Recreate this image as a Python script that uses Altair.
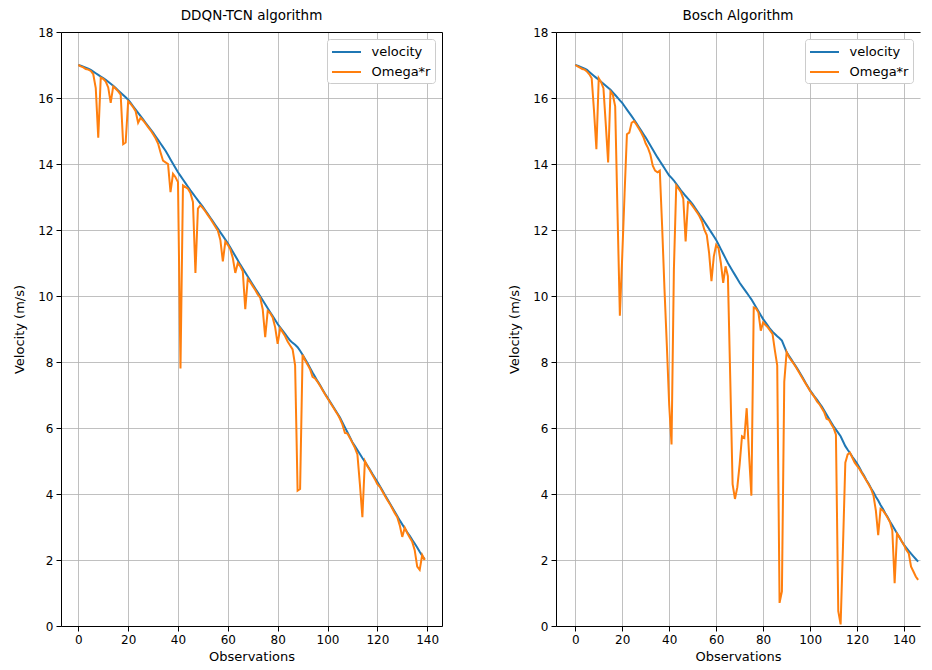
import altair as alt
import pandas as pd

# ---------------- data ----------------
obs_ddqn = list(range(140))
velocity_ddqn = [
    17.00, 16.98, 16.95, 16.92, 16.89, 16.85, 16.80, 16.75, 16.70, 16.65,
    16.60, 16.55, 16.49, 16.43, 16.37, 16.30, 16.23, 16.16, 16.09, 16.02,
    15.95, 15.85, 15.75, 15.65, 15.55, 15.45, 15.35, 15.25, 15.15, 15.05,
    14.95, 14.84, 14.73, 14.62, 14.51, 14.40, 14.27, 14.14, 14.01, 13.88,
    13.75, 13.64, 13.53, 13.42, 13.31, 13.20, 13.10, 13.00, 12.90, 12.80,
    12.70, 12.59, 12.48, 12.37, 12.26, 12.15, 12.04, 11.93, 11.82, 11.71,
    11.60, 11.47, 11.34, 11.21, 11.08, 10.95, 10.83, 10.71, 10.59, 10.47,
    10.35, 10.23, 10.11, 9.99, 9.87, 9.75, 9.63, 9.51, 9.39, 9.27,
    9.15, 9.05, 8.95, 8.85, 8.75, 8.65, 8.58, 8.52, 8.45, 8.34,
    8.22, 8.09, 7.96, 7.82, 7.68, 7.55, 7.42, 7.30, 7.17, 7.04,
    6.92, 6.80, 6.68, 6.56, 6.44, 6.32, 6.17, 6.02, 5.87, 5.72,
    5.57, 5.45, 5.33, 5.21, 5.09, 4.98, 4.86, 4.74, 4.61, 4.49,
    4.37, 4.24, 4.11, 3.98, 3.85, 3.72, 3.59, 3.46, 3.33, 3.20,
    3.08, 2.96, 2.84, 2.73, 2.61, 2.50, 2.38, 2.25, 2.13, 2.02,
]
omega_ddqn = [
    17.00, 16.96, 16.93, 16.88, 16.86, 16.82, 16.72, 16.30, 14.80, 16.62,
    16.58, 16.50, 16.32, 15.85, 16.35, 16.28, 16.20, 16.10, 14.60, 14.65,
    15.90, 15.82, 15.72, 15.60, 15.25, 15.40, 15.32, 15.22, 15.12, 15.02,
    14.90, 14.78, 14.62, 14.35, 14.10, 14.05, 14.00, 13.15, 13.70, 13.60,
    13.45, 7.80, 13.35, 13.30, 13.25, 13.12, 12.85, 10.70, 12.65, 12.75,
    12.66, 12.56, 12.45, 12.34, 12.22, 12.10, 11.98, 11.70, 11.05, 11.65,
    11.55, 11.42, 11.15, 10.70, 11.00, 10.90, 10.75, 9.60, 10.52, 10.42,
    10.30, 10.18, 10.05, 9.95, 9.60, 8.75, 9.55, 9.48, 9.35, 9.05,
    8.55, 9.02, 8.90, 8.78, 8.62, 8.50, 8.38, 7.90, 4.10, 4.15,
    8.22, 8.05, 7.92, 7.78, 7.55, 7.50, 7.40, 7.28, 7.15, 7.02,
    6.90, 6.78, 6.66, 6.54, 6.42, 6.28, 6.10, 5.85, 5.83, 5.70,
    5.55, 5.40, 5.20, 4.30, 3.30, 5.00, 4.85, 4.72, 4.58, 4.45,
    4.30, 4.22, 4.08, 3.95, 3.82, 3.70, 3.56, 3.42, 3.30, 3.05,
    2.70, 2.98, 2.82, 2.68, 2.55, 2.30, 1.80, 1.70, 2.15, 2.00,
]

obs_bosch = list(range(147))
velocity_bosch = [
    17.00, 16.98, 16.95, 16.92, 16.89, 16.85, 16.79, 16.73, 16.67, 16.61,
    16.55, 16.49, 16.43, 16.37, 16.31, 16.25, 16.17, 16.09, 16.01, 15.93,
    15.85, 15.75, 15.65, 15.55, 15.45, 15.35, 15.24, 15.13, 15.02, 14.91,
    14.80, 14.68, 14.56, 14.44, 14.32, 14.20, 14.09, 13.98, 13.87, 13.76,
    13.65, 13.58, 13.50, 13.40, 13.30, 13.20, 13.12, 13.03, 12.95, 12.87,
    12.78, 12.67, 12.57, 12.46, 12.36, 12.25, 12.14, 12.03, 11.92, 11.81,
    11.70, 11.56, 11.42, 11.28, 11.14, 11.00, 10.88, 10.76, 10.64, 10.52,
    10.40, 10.30, 10.20, 10.10, 10.00, 9.90, 9.78, 9.66, 9.54, 9.42,
    9.30, 9.20, 9.10, 9.00, 8.92, 8.85, 8.78, 8.72, 8.65, 8.47,
    8.30, 8.19, 8.08, 7.97, 7.86, 7.75, 7.63, 7.51, 7.38, 7.26,
    7.14, 7.04, 6.94, 6.85, 6.75, 6.65, 6.53, 6.41, 6.29, 6.17,
    6.05, 5.95, 5.85, 5.75, 5.60, 5.45, 5.34, 5.24, 5.13, 5.03,
    4.92, 4.80, 4.67, 4.55, 4.42, 4.30, 4.17, 4.05, 3.92, 3.80,
    3.67, 3.55, 3.42, 3.30, 3.17, 3.05, 2.93, 2.81, 2.69, 2.57,
    2.46, 2.37, 2.28, 2.19, 2.11, 2.03, 1.95,
]
omega_bosch = [
    17.00, 16.96, 16.92, 16.88, 16.86, 16.80, 16.72, 16.60, 15.60, 14.45,
    16.60, 16.48, 16.30, 15.20, 14.05, 16.20, 16.10, 15.75, 12.50, 9.40,
    11.20, 13.10, 14.90, 14.95, 15.25, 15.30, 15.20, 15.08, 14.96, 14.82,
    14.62, 14.48, 14.28, 13.95, 13.80, 13.75, 13.80, 12.10, 10.20, 8.50,
    6.70, 5.50, 10.80, 13.35, 13.25, 13.15, 12.95, 11.65, 12.85, 12.82,
    12.72, 12.62, 12.52, 12.40, 12.25, 12.00, 11.85, 11.30, 10.45, 11.20,
    11.55, 11.45, 11.00, 10.40, 10.90, 10.60, 7.50, 4.30, 3.85, 4.20,
    4.90, 5.75, 5.70, 6.60, 5.20, 3.95, 9.65, 9.62, 9.50, 8.95,
    9.20, 9.12, 9.05, 8.95, 8.85, 8.35, 7.90, 0.70, 1.05, 7.40,
    8.30, 8.15, 8.05, 7.95, 7.84, 7.72, 7.60, 7.48, 7.36, 7.24,
    7.12, 7.02, 6.92, 6.80, 6.72, 6.60, 6.48, 6.28, 6.25, 6.12,
    6.00, 5.80, 0.45, 0.05, 2.40, 4.95, 5.20, 5.25, 5.10, 4.95,
    4.85, 4.76, 4.64, 4.52, 4.40, 4.28, 4.15, 3.95, 3.50, 2.75,
    3.55, 3.50, 3.40, 3.28, 3.15, 2.90, 1.30, 2.80, 2.70, 2.57,
    2.45, 2.30, 2.20, 1.80, 1.65, 1.50, 1.40,
]

series_names = ["velocity", "Omega*r"]
series_colors = ["#1f77b4", "#ff7f0e"]
x_ticks = [0, 20, 40, 60, 80, 100, 120, 140]
y_ticks = [0, 2, 4, 6, 8, 10, 12, 14, 16, 18]
titles = ["DDQN-TCN algorithm", "Bosch Algorithm"]

FONT = "DejaVu Sans"


def panel(obs, vel, om, title, xdomain, width, right_spine):
    df = pd.concat([
        pd.DataFrame({"obs": obs, "value": vel, "series": series_names[0]}),
        pd.DataFrame({"obs": obs, "value": om, "series": series_names[1]}),
    ])
    xscale = alt.Scale(domain=xdomain, nice=False, zero=False)
    yscale = alt.Scale(domain=[0, 18], nice=False, zero=False)
    color = alt.Color("series:N",
                      scale=alt.Scale(domain=series_names, range=series_colors),
                      legend=alt.Legend(title=None, orient="top-right"))
    base = alt.Chart(df)
    blue = base.transform_filter(alt.datum.series == series_names[0]).mark_line(
        strokeWidth=2).encode(
        x=alt.X("obs:Q", scale=xscale,
                axis=alt.Axis(values=x_ticks, title="Observations", grid=True,
                              format="d", titlePadding=5)),
        y=alt.Y("value:Q", scale=yscale,
                axis=alt.Axis(values=y_ticks, title="Velocity (m/s)", grid=True,
                              format="d", titlePadding=11)),
        color=color)
    # spines on the top (and right) drawn as bare axis domains
    spine_axis = dict(labels=False, ticks=False, grid=False, title="",
                      domain=True)
    if right_spine:
        spine_y = alt.Y("value:Q", scale=yscale,
                        axis=alt.Axis(orient="right", **spine_axis))
    else:
        spine_y = alt.Y("value:Q", scale=yscale, axis=None)
    spine = base.mark_line(strokeOpacity=0).encode(
        x=alt.X("obs:Q", scale=xscale, axis=alt.Axis(orient="top", **spine_axis)),
        y=spine_y,
    )
    orange = base.transform_filter(alt.datum.series == series_names[1]).mark_line(
        strokeWidth=2).encode(
        x=alt.X("obs:Q", scale=xscale, axis=None),
        y=alt.Y("value:Q", scale=yscale, axis=None),
        color=color)
    layered = alt.layer(blue, spine, orange).resolve_axis(
        x="independent", y="independent"
    ).properties(
        width=width, height=594,
        title=alt.TitleParams(title, fontSize=13.5, font=FONT, fontWeight="normal",
                              color="black", anchor="middle", offset=4),
    )
    return layered


left = panel(obs_ddqn, velocity_ddqn, omega_ddqn, titles[0], [-6.95, 145.95], 381, True)
right = panel(obs_bosch, velocity_bosch, omega_bosch, titles[1], [-8.2, 146.8], 364, False)

chart = alt.hconcat(left, right, spacing=66).resolve_legend(
    color="independent"
).properties(
    padding={"left": 5, "top": 0, "right": 0, "bottom": 0}
).configure_view(
    strokeOpacity=0
).configure_axis(
    labelFont=FONT, labelFontSize=12, labelColor="black",
    titleFont=FONT, titleFontSize=13, titleFontWeight="normal", titleColor="black",
    domainColor="black", domainWidth=1, tickColor="black", tickSize=5,
    tickWidth=1, labelPadding=3,
    gridColor="#b0b0b0", gridWidth=1, gridOpacity=0.8,
).configure_legend(
    labelFont=FONT, labelFontSize=13, labelColor="black",
    symbolType="M-1.8125,0H1.8125", symbolStrokeWidth=2, symbolSize=256,
    symbolOffset=6.5, labelOffset=16,
    fillColor="white", strokeColor="#cccccc", cornerRadius=3,
    padding=4, offset=7, rowPadding=4,
).configure_title(font=FONT)

chart.save("out.html", embed_options={"renderer": "svg", "actions": False})
